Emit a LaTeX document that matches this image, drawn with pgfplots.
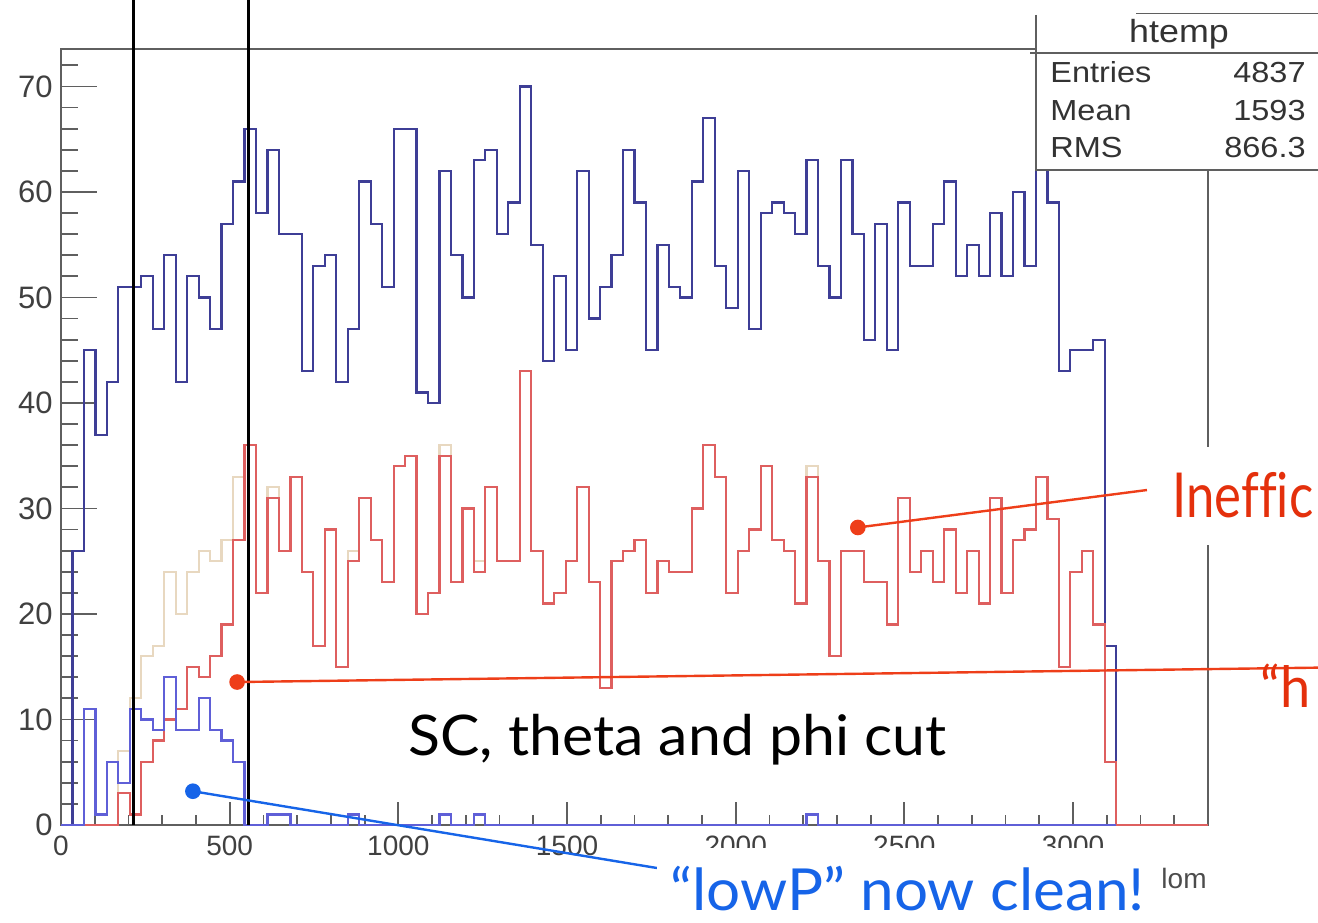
\documentclass[border=0pt]{standalone}
\usepackage{pgfplots}
\pgfplotsset{compat=1.18}
\usepackage{pgfplotstable}
\usepackage{fontspec}
\setmainfont{Liberation Sans}
\newfontfamily\statfont[FakeStretch=1.12]{Liberation Sans}
\newfontfamily\gillcut[FakeStretch=1.053]{Lato}
\newfontfamily\gillblue[FakeStretch=1.037]{Lato}
\newfontfamily\gillred[FakeStretch=0.82, Ligatures=NoCommon]{Lato}
\newfontfamily\gillh[FakeStretch=0.95]{Lato}

\definecolor{hall}{RGB}{62,62,150}
\definecolor{hred}{RGB}{222,95,95}
\definecolor{hbeige}{RGB}{232,216,192}
\definecolor{hlowp}{RGB}{95,95,215}
\definecolor{annored}{RGB}{238,62,25}
\definecolor{annotext}{RGB}{228,48,12}
\definecolor{annoblue}{RGB}{22,100,232}
\definecolor{framegray}{RGB}{95,95,95}

% 100 bins of width 34 over 0..3400; x is the lower bin edge
\pgfplotstableread{
x    all beige red lowp
0    0   0   0   0
34   26  0   0   0
68   45  0   0   11
102  37  0   0   1
136  42  0   0   6
170  51  7   3   4
204  51  12  1   11
238  52  16  6   10
272  47  17  8   9
306  54  24  10  14
340  42  20  11  9
374  52  24  15  9
408  50  26  14  12
442  47  25  16  9
476  57  27  19  8
510  61  33  27  6
544  66  36  36  0
578  58  22  22  0
612  64  32  31  1
646  56  26  26  1
680  56  33  33  0
714  43  24  24  0
748  53  17  17  0
782  54  28  28  0
816  42  15  15  0
850  47  26  25  1
884  61  31  31  0
918  57  27  27  0
952  51  23  23  0
986  66  34  34  0
1020 66  35  35  0
1054 41  20  20  0
1088 40  22  22  0
1122 62  36  35  1
1156 54  23  23  0
1190 50  30  30  0
1224 63  25  24  1
1258 64  32  32  0
1292 56  25  25  0
1326 59  25  25  0
1360 70  43  43  0
1394 55  26  26  0
1428 44  21  21  0
1462 52  22  22  0
1496 45  25  25  0
1530 62  32  32  0
1564 48  23  23  0
1598 51  13  13  0
1632 54  25  25  0
1666 64  26  26  0
1700 59  27  27  0
1734 45  22  22  0
1768 55  25  25  0
1802 51  24  24  0
1836 50  24  24  0
1870 61  30  30  0
1904 67  36  36  0
1938 53  33  33  0
1972 49  22  22  0
2006 62  26  26  0
2040 47  28  28  0
2074 58  34  34  0
2108 59  27  27  0
2142 58  26  26  0
2176 56  21  21  0
2210 63  34  33  1
2244 53  25  25  0
2278 50  16  16  0
2312 63  26  26  0
2346 56  26  26  0
2380 46  23  23  0
2414 57  23  23  0
2448 45  19  19  0
2482 59  31  31  0
2516 53  24  24  0
2550 53  26  26  0
2584 57  23  23  0
2618 61  28  28  0
2652 52  22  22  0
2686 55  26  26  0
2720 52  21  21  0
2754 58  31  31  0
2788 52  22  22  0
2822 60  27  27  0
2856 53  28  28  0
2890 64  33  33  0
2924 59  29  29  0
2958 43  15  15  0
2992 45  24  24  0
3026 45  26  26  0
3060 46  19  19  0
3094 17  6   6   0
3128 0   0   0   0
3162 0   0   0   0
3196 0   0   0   0
3230 0   0   0   0
3264 0   0   0   0
3298 0   0   0   0
3332 0   0   0   0
3366 0   0   0   0
3400 0   0   0   0
}\histos

\pgfplotsset{
  roothisto/.style={
    at={(30.5pt,48.5pt)}, anchor=south west,
    width=573.5pt, height=388pt, scale only axis,
    xmin=0, xmax=3400, ymin=0, ymax=73.55,
    tick align=inside,
    every tick/.style={framegray, line width=0.9pt},
    /pgf/number format/assume math mode=true,
  },
}

\begin{document}
\begin{tikzpicture}
\useasboundingbox (0,0) rectangle (659pt,461pt);
\clip (0,0) rectangle (659pt,461pt);

% x axis ticks (shorter than the y ticks)
\begin{axis}[roothisto,
  axis line style={draw=none},
  ytick=\empty,
  xtick={0,500,1000,1500,2000,2500,3000},
  xticklabels={0,500,1000,1500,2000,2500,3000},
  minor xtick={100,200,...,3300},
  xtick pos=left,
  major tick length=11.5pt, minor tick length=5pt,
  xticklabel style={font=\fontsize{14}{14}\selectfont, text=black!75,
    inner sep=0pt, yshift=-5.5pt},
]
\end{axis}

% frame, y ticks and the histograms
\begin{axis}[roothisto,
  clip=false,
  axis line style={draw=framegray, line width=0.9pt},
  xtick=\empty,
  ytick={0,10,20,30,40,50,60,70},
  yticklabels={0,10,20,30,40,50,60,70},
  minor ytick={2,4,...,72},
  ytick pos=left,
  major tick length=18pt, minor tick length=8.5pt,
  yticklabel style={font=\fontsize{15.5}{15.5}\selectfont, text=black!75,
    inner sep=0pt, xshift=-4pt},
]
\addplot[const plot, hall, line width=1.1pt] table[x=x, y=all] {\histos};
\addplot[const plot, hbeige, line width=1.1pt] table[x=x, y=beige] {\histos};
\addplot[const plot, hred, line width=1.1pt] table[x=x, y=red] {\histos};
\addplot[const plot, hlowp, line width=1.1pt, restrict x to domain=0:3128]
  table[x=x, y=lowp] {\histos};

% momentum cut window
\addplot[black, line width=1.5pt] coordinates {(214,0) (214,80)};
\addplot[black, line width=1.5pt] coordinates {(557,0) (557,80)};

% pointers from the labels
\addplot[annored, line width=1.2pt, mark=*, mark size=3.3pt, mark indices={1}]
  coordinates {(2362,28.2) (3219,31.75)};
\addplot[annored, line width=1.2pt, mark=*, mark size=3.3pt, mark indices={1}]
  coordinates {(522,13.55) (3762,14.93)};
\addplot[annoblue, line width=1.2pt, mark=*, mark size=3.3pt, mark indices={1}]
  coordinates {(391,3.2) (1767,-4.08)};
\end{axis}

% overlays in page units (1 unit = 0.5pt, y measured downwards)
\begin{scope}[x=0.5pt, y=-0.5pt, yshift=461pt]
  % statistics box
  \fill[white] (1036,15) rectangle (1330,170);
  \draw[framegray, line width=0.9pt] (1136,13.5) -- (1330,13.5);
  \draw[framegray, line width=0.9pt] (1036,15) -- (1036,170) -- (1330,170);
  \draw[framegray, line width=0.9pt] (1030,52.7) -- (1330,52.7);
  \node[anchor=base, inner sep=0pt, text=black!80]
    at (1179,43) {\statfont\fontsize{16}{16}\selectfont htemp};
  \begin{scope}[every node/.style={inner sep=0pt, text=black!80,
      font=\statfont\fontsize{14.5}{14.5}\selectfont}]
    \node[anchor=base west] at (1050,83) {Entries};
    \node[anchor=base east] at (1306,83) {4837};
    \node[anchor=base west] at (1050,120.5) {Mean};
    \node[anchor=base east] at (1306,120.5) {1593};
    \node[anchor=base west] at (1050,158) {RMS};
    \node[anchor=base east] at (1306,158) {866.3};
  \end{scope}

  % axis title
  \node[anchor=base east, inner sep=0pt, text=black!70]
    at (1207,888) {\fontsize{14}{14}\selectfont lom};

  % slide annotations
  \node[anchor=base west, inner sep=0pt]
    at (408,755) {\gillcut\fontsize{28}{28}\selectfont SC, theta and phi cut};

  \fill[white] (1150,447) rectangle (1330,545);
  \node[anchor=base west, inner sep=0pt, text=annotext]
    at (1172,518) {\gillred\fontsize{31}{31}\selectfont Ineffic};

  \node[anchor=base west, inner sep=0pt, text=annotext]
    at (1260,708) {\gillh\fontsize{28.5}{28.5}\selectfont “h};

  \fill[white] (657,848) rectangle (1152,930);
  \node[anchor=base west, inner sep=0pt, text depth=0pt, text=annoblue]
    at (670,910) {\gillblue\fontsize{29}{29}\selectfont “lowP” now clean!};
\end{scope}
\end{tikzpicture}
\end{document}
